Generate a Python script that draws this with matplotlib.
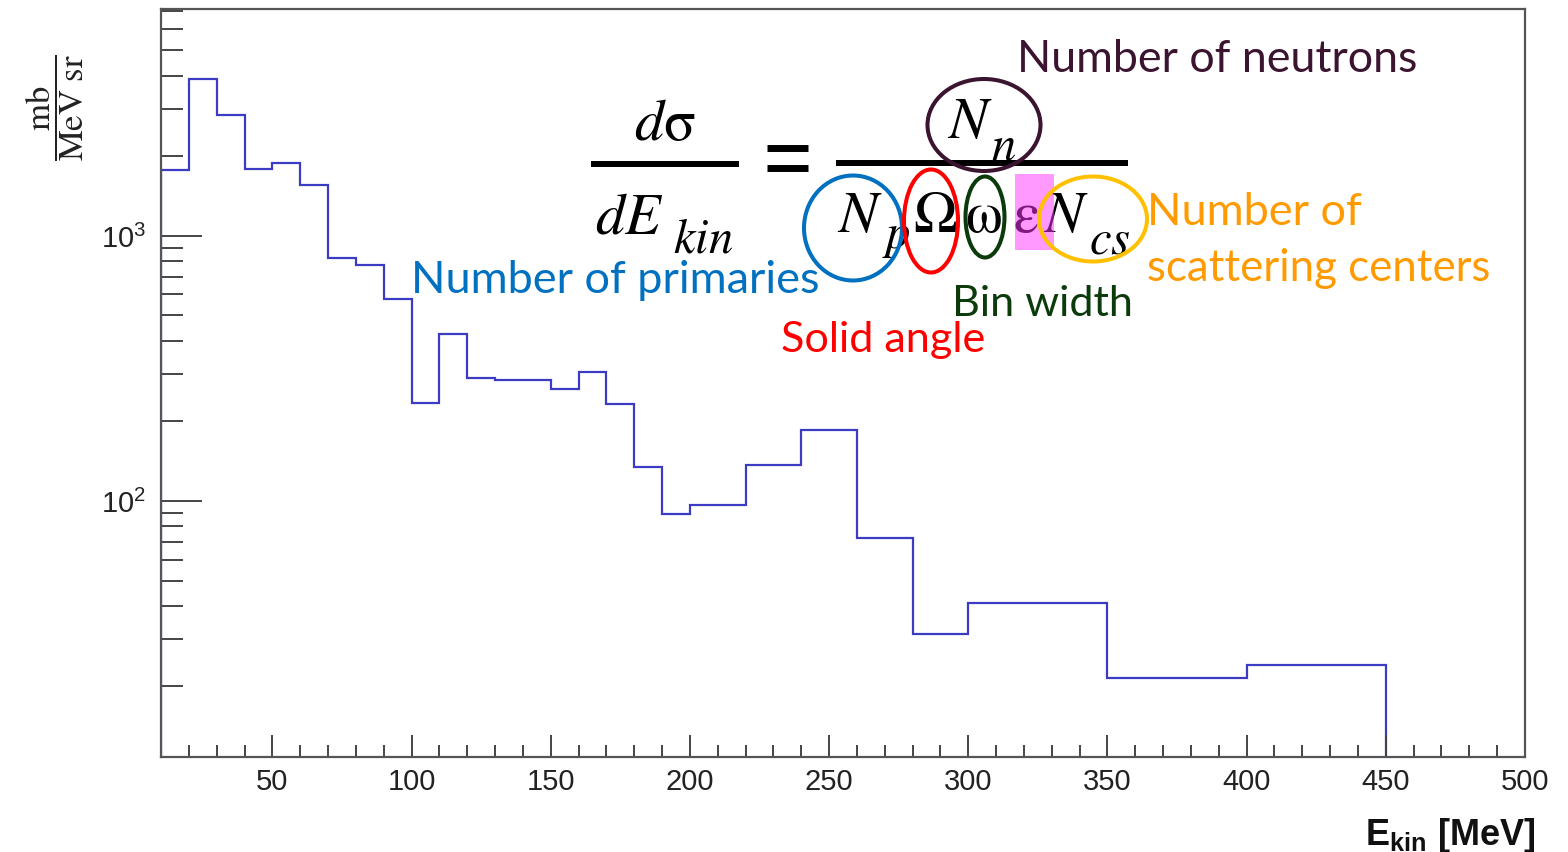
import matplotlib
matplotlib.use("Agg")
import matplotlib.pyplot as plt
import numpy as np
from matplotlib.patches import Ellipse, Rectangle
from matplotlib.ticker import MultipleLocator, LogLocator, NullFormatter

# neutron spectrum, mb/(MeV sr)
edges = [10, 20, 30, 40, 50, 60, 70, 80, 90, 100, 110, 120, 130, 140, 150,
         160, 170, 180, 190, 200, 220, 240, 260, 280, 300, 350, 400, 450]
values = [1760, 3900, 2840, 1775, 1885, 1545, 820, 777, 575, 234, 427, 290,
          285, 285, 263, 307, 232, 134, 89, 96, 136, 184, 72.5, 31.3, 41.2,
          21.5, 24.1]

W, H = 1568, 853

plt.rcParams["font.family"] = ["Liberation Sans", "DejaVu Sans"]
plt.rcParams["mathtext.fontset"] = "custom"
plt.rcParams["mathtext.rm"] = "Liberation Sans"
plt.rcParams["mathtext.it"] = "Liberation Sans:italic"
plt.rcParams["mathtext.bf"] = "Liberation Sans:bold"

fig = plt.figure(figsize=(W / 100, H / 100), dpi=100)
ax = fig.add_axes([161 / W, 1 - 758 / H, (1525 - 161) / W, (758 - 10) / H])
ax.stairs(values, edges, baseline=1, color="#3b3bc4", lw=1.6)
ax.set_yscale("log")
ax.set_xlim(10, 500)
ax.set_ylim(10.8, 7150)
ax.xaxis.set_major_locator(MultipleLocator(50))
ax.xaxis.set_minor_locator(MultipleLocator(10))
ax.yaxis.set_major_locator(LogLocator(base=10, numticks=10))
ax.yaxis.set_minor_locator(LogLocator(base=10, subs=np.arange(2, 10), numticks=20))
ax.yaxis.set_minor_formatter(NullFormatter())
ax.tick_params(which="both", direction="in", top=False, right=False,
               color="#444", width=1.4, labelsize=21, labelcolor="#222")
ax.tick_params(axis="x", which="major", length=15.5, pad=7)
ax.tick_params(axis="x", which="minor", length=8.4)
ax.tick_params(axis="y", which="major", length=29.5, pad=11)
ax.tick_params(axis="y", which="minor", length=16)
for s in ax.spines.values():
    s.set_color("#555")
    s.set_linewidth(1.6)

# overlay in pixel coordinates for the formula and the notes
ov = fig.add_axes([0, 0, 1, 1], zorder=5)
ov.set_xlim(0, W)
ov.set_ylim(H, 0)
ov.axis("off")
renderer = fig.canvas.get_renderer()


def fit_text(x, y, s, width, ha="left", **kw):
    t = ov.text(x, y, s, fontsize=30, va="baseline", ha=ha, **kw)
    w = t.get_window_extent(renderer).width
    t.set_fontsize(30 * width / w)
    return t


# axis titles
fit_text(1535, 845, r"$\mathbf{E}_{\mathbf{kin}}$ [MeV]", 170, ha="right",
         fontweight="bold", color="#111")
ov.text(55, 108, r"$\dfrac{\mathrm{mb}}{\mathrm{MeV\ sr}}$", rotation=90,
        math_fontfamily="stix", fontsize=25, ha="center", va="center",
        color="#222")

# formula: big symbols and large, low subscripts
fm = dict(math_fontfamily="stix", fontsize=42, va="baseline", ha="left",
          color="black")


def sym(x, y, s, **kw):
    ov.text(x, y, s, **dict(fm, **kw))


sym(665, 140, r"$d\mathrm{\sigma}$", ha="center")
sym(595, 233, r"$dE$")
sym(673, 252, r"$kin$", fontsize=35)
ov.plot([591, 739], [165, 165], color="black", lw=4.3, solid_capstyle="butt")
ov.plot([767, 808], [148.5, 148.5], color="black", lw=5, solid_capstyle="butt")
ov.plot([767, 808], [168.5, 168.5], color="black", lw=5, solid_capstyle="butt")
ov.plot([836, 1128], [164, 164], color="black", lw=4.3, solid_capstyle="butt")
sym(947, 138, r"$N$")
sym(991, 159, r"$n$", fontsize=35)
sym(837, 232, r"$N$")
sym(882, 248, r"$p$", fontsize=35)
sym(913, 232, r"$\Omega$")
sym(965, 232, r"$\mathrm{\omega}$")
sym(1013, 232, r"$\mathrm{\varepsilon}$")
sym(1043, 232, r"$N$")
sym(1089, 253, r"$cs$", fontsize=35)
ov.add_patch(Rectangle((1015, 175), 39, 76, facecolor="#ff33ff", alpha=0.5,
                       edgecolor="none", zorder=4))

ell = dict(fill=False, lw=2.9, zorder=6)
ov.add_patch(Ellipse((984, 126), 113, 92, ec="#3b1430", **ell))
ov.add_patch(Ellipse((853, 229), 98, 105, ec="#0070c0", **ell))
ov.add_patch(Ellipse((931, 222), 54, 103, ec="#ff0000", **ell))
ov.add_patch(Ellipse((985, 218), 39, 81, ec="#0b3b0b", **ell))
ov.add_patch(Ellipse((1093, 220), 108, 85, ec="#ffc000", **ell))

# notes
lab = dict(family=["Lato", "DejaVu Sans"])
fit_text(1017, 72, "Number of neutrons", 400, color="#3b1430", **lab)
fit_text(411, 293, "Number of primaries", 409, color="#0070c0", **lab)
fit_text(781, 352, "Solid angle", 204, color="#ff0000", **lab)
fit_text(952, 316, "Bin width", 181, color="#0b3b0b", **lab)
fit_text(1147, 225, "Number of", 215, color="#ff9a00", **lab)
fit_text(1147, 281, "scattering centers", 343, color="#ff9a00", **lab)

fig.savefig("out.png", dpi=100)
